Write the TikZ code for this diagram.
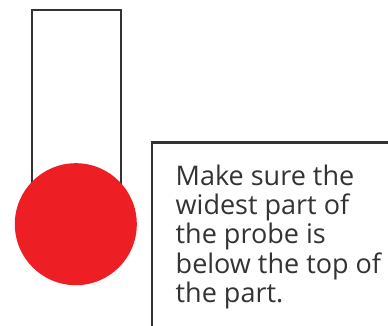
\documentclass[tikz,border=0pt]{standalone}
\usepackage{fontspec}
\setmainfont{Open Sans}
\usepackage{xcolor}
\usepackage{tikz}
\usetikzlibrary{positioning, calc}
\definecolor{Probe_Red}{RGB}{237,31,36}
\definecolor{Probe_Gray}{RGB}{51,51,51}

\begin{document}
\begin{tikzpicture}[
    x=1pt, y=-1pt,
    stem/.style={rectangle, draw=Probe_Gray, line width=2.1pt, fill=white,
                 minimum width=89pt, minimum height=200pt, inner sep=0pt},
    bulb/.style={circle, fill=Probe_Red, minimum size=122pt, inner sep=0pt},
    notebox/.style={draw=Probe_Gray, line width=2.1pt},
    notetext/.style={align=left, inner sep=0pt, text=Probe_Gray,
                     font=\fontsize{27}{29.3}\selectfont}
]
\path[use as bounding box, clip] (0,0) rectangle (388,326);

% Probe - stem and tip
\node[stem, anchor=north west] (stem) at (31,9) {};
\node[bulb] (bulb) at (75.8,224.2) {};

% Note box, open to the right and below
\coordinate (corner) at (152.3,142.5);
\draw[notebox] ($(corner)+(300,200)$) |- (corner) -- ($(corner)+(0,200)$);
\node[notetext, anchor=north west] (note) at (175.5,164.5)
    {Make sure the\\widest part of\\the probe is\\below the top of\\the part.};

\end{tikzpicture}
\end{document}
